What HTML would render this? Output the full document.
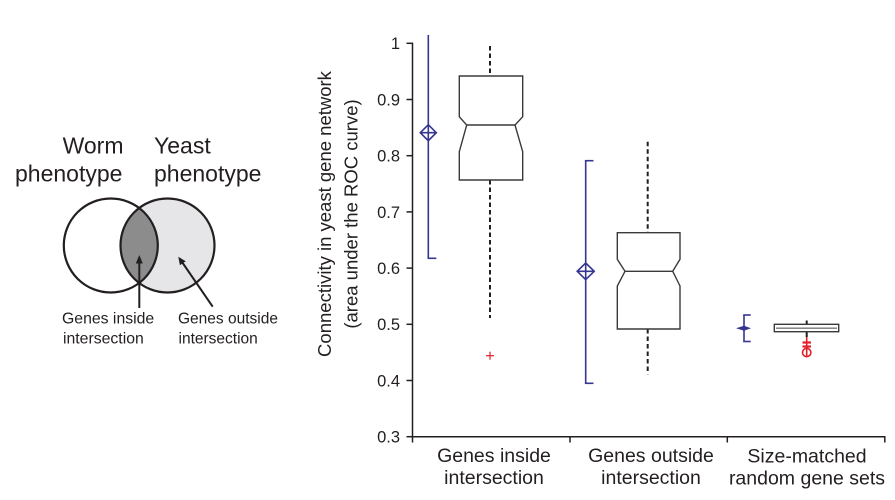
<!DOCTYPE html>
<html>
<head>
<meta charset="utf-8">
<style>
  html,body{margin:0;padding:0;background:#fff;}
  body{width:895px;height:500px;overflow:hidden;}
  svg{display:block;}
  text{font-family:"Liberation Sans", Arial, sans-serif;fill:#231f20;}
</style>
</head>
<body>
<svg width="895" height="500" viewBox="0 0 895 500" xmlns="http://www.w3.org/2000/svg">
  <defs>
    <clipPath id="leftC"><circle cx="110.8" cy="245.5" r="47"/></clipPath>
  </defs>

  <!-- ===== Venn diagram ===== -->
  <text x="123.5" y="153.3" font-size="23" text-anchor="end">Worm</text>
  <text x="15" y="181.7" font-size="23">phenotype</text>
  <text x="154" y="153.3" font-size="23">Yeast</text>
  <text x="154" y="181.7" font-size="23">phenotype</text>

  <circle cx="167.5" cy="245.5" r="47" fill="#e6e6e8"/>
  <circle cx="167.5" cy="245.5" r="47" fill="#8c8c8d" clip-path="url(#leftC)"/>
  <circle cx="110.8" cy="245.5" r="47" fill="none" stroke="#231f20" stroke-width="2.2"/>
  <circle cx="167.5" cy="245.5" r="47" fill="none" stroke="#231f20" stroke-width="2.2"/>

  <!-- arrows -->
  <line x1="139.3" y1="262" x2="139.3" y2="308" stroke="#231f20" stroke-width="2"/>
  <polygon points="139.3,255 135.8,263.5 142.8,263.5" fill="#231f20"/>
  <line x1="182" y1="262" x2="212.7" y2="306.7" stroke="#231f20" stroke-width="2"/>
  <polygon points="178.3,256.7 185.7,261.3 179.9,265.3" fill="#231f20"/>

  <text x="62" y="323.3" font-size="15.8">Genes inside</text>
  <text x="63" y="343.3" font-size="15.8">intersection</text>
  <text x="178" y="323.3" font-size="15.5">Genes outside</text>
  <text x="178.5" y="343.3" font-size="15.5">intersection</text>

  <!-- ===== Axes ===== -->
  <g stroke="#231f20" stroke-width="1.5" fill="none">
    <line x1="412.5" y1="42.6" x2="412.5" y2="437.4"/>
    <line x1="411.8" y1="436.7" x2="885.5" y2="436.7"/>
    <!-- y ticks -->
    <line x1="406.5" y1="43.3" x2="412.5" y2="43.3"/>
    <line x1="406.5" y1="99.5" x2="412.5" y2="99.5"/>
    <line x1="406.5" y1="155.7" x2="412.5" y2="155.7"/>
    <line x1="406.5" y1="211.9" x2="412.5" y2="211.9"/>
    <line x1="406.5" y1="268.1" x2="412.5" y2="268.1"/>
    <line x1="406.5" y1="324.3" x2="412.5" y2="324.3"/>
    <line x1="406.5" y1="380.5" x2="412.5" y2="380.5"/>
    <line x1="406.5" y1="436.7" x2="412.5" y2="436.7"/>
    <!-- x ticks -->
    <line x1="412.5" y1="436.7" x2="412.5" y2="442.5"/>
    <line x1="570" y1="436.7" x2="570" y2="442.5"/>
    <line x1="727.3" y1="436.7" x2="727.3" y2="442.5"/>
    <line x1="884.8" y1="436.7" x2="884.8" y2="442.5"/>
  </g>

  <g font-size="16.5" text-anchor="end">
    <text x="400" y="49.2">1</text>
    <text x="400" y="105.4">0.9</text>
    <text x="400" y="161.6">0.8</text>
    <text x="400" y="217.8">0.7</text>
    <text x="400" y="274">0.6</text>
    <text x="400" y="330.2">0.5</text>
    <text x="400" y="386.4">0.4</text>
    <text x="400" y="442.6">0.3</text>
  </g>

  <g font-size="18.5" text-anchor="middle">
    <text transform="translate(331,214) rotate(-90)">Connectivity in yeast gene network</text>
    <text transform="translate(357.5,214) rotate(-90)">(area under the ROC curve)</text>
  </g>

  <g font-size="19.5" text-anchor="middle">
    <text x="494" y="462">Genes inside</text>
    <text x="494" y="484">intersection</text>
    <text x="651" y="462">Genes outside</text>
    <text x="651" y="484">intersection</text>
    <text x="807" y="462.5">Size-matched</text>
    <text x="807" y="484.3">random gene sets</text>
  </g>

  <!-- ===== Series 1 ===== -->
  <g stroke="#363690" stroke-width="1.6" fill="none">
    <line x1="428.3" y1="35" x2="428.3" y2="258.3"/>
    <line x1="427.5" y1="258.3" x2="436.3" y2="258.3"/>
    <polygon points="428.3,124.7 436.3,132.7 428.3,140.7 420.3,132.7"/>
    <line x1="420.3" y1="132.7" x2="436.3" y2="132.7"/>
  </g>
  <g stroke="#231f20" stroke-width="2" stroke-dasharray="4.5 3">
    <line x1="490" y1="46" x2="490" y2="76"/>
    <line x1="490" y1="180" x2="490" y2="318"/>
  </g>
  <g stroke="#3a3a3a" stroke-width="1.4" fill="#fff">
    <polygon points="459.3,76 522.7,76 522.7,116.7 515,125 522.7,151.7 522.7,180 459.3,180 459.3,151.7 466.7,125 459.3,116.7"/>
    <line x1="466.7" y1="125" x2="515" y2="125"/>
  </g>
  <g stroke="#e2202a" stroke-width="1.2">
    <line x1="486" y1="355.7" x2="494" y2="355.7"/>
    <line x1="490" y1="351.7" x2="490" y2="359.7"/>
  </g>

  <!-- ===== Series 2 ===== -->
  <g stroke="#363690" stroke-width="1.6" fill="none">
    <line x1="585.7" y1="160.7" x2="585.7" y2="383.3"/>
    <line x1="584.9" y1="160.7" x2="593.5" y2="160.7"/>
    <line x1="584.9" y1="383.3" x2="593.5" y2="383.3"/>
    <polygon points="585.7,263 594.2,271.3 585.7,279.6 577.2,271.3"/>
    <line x1="577.2" y1="271.3" x2="594.2" y2="271.3"/>
  </g>
  <g stroke="#231f20" stroke-width="2" stroke-dasharray="4.5 3">
    <line x1="647.7" y1="141.7" x2="647.7" y2="232.7"/>
    <line x1="647.7" y1="329" x2="647.7" y2="374.3"/>
  </g>
  <g stroke="#3a3a3a" stroke-width="1.4" fill="#fff">
    <polygon points="617.3,232.7 680,232.7 680,259.3 672.7,271.3 680,286 680,329 617.3,329 617.3,286 625,271.3 617.3,259.3"/>
    <line x1="625" y1="271.3" x2="672.7" y2="271.3"/>
  </g>

  <!-- ===== Series 3 ===== -->
  <g stroke="#363690" stroke-width="1.6" fill="none">
    <line x1="744" y1="315" x2="744" y2="341.5"/>
    <line x1="743.2" y1="315" x2="750.7" y2="315"/>
    <line x1="743.2" y1="341.5" x2="750.7" y2="341.5"/>
  </g>
  <polygon points="736,328.3 744,325.8 751,328.3 744,330.8" fill="#363690"/>
  <g stroke="#231f20" stroke-width="2">
    <line x1="806.7" y1="320.5" x2="806.7" y2="324.3"/>
    <line x1="806.7" y1="331.7" x2="806.7" y2="337"/>
  </g>
  <g stroke="#3a3a3a" stroke-width="1.4" fill="#fff">
    <rect x="774.3" y="324.3" width="64.4" height="7.4"/>
    <line x1="776" y1="328.2" x2="837" y2="328.2" stroke="#777"/>
  </g>
  <g stroke="#e2202a" stroke-width="1.6" fill="none">
    <line x1="806.7" y1="337" x2="806.7" y2="356"/>
    <line x1="802.5" y1="342.5" x2="811" y2="342.5" stroke-width="2.2"/>
    <line x1="802.5" y1="346.5" x2="811" y2="346.5" stroke-width="2.2"/>
    <circle cx="806.7" cy="352.5" r="4.2"/>
  </g>
</svg>
</body>
</html>
